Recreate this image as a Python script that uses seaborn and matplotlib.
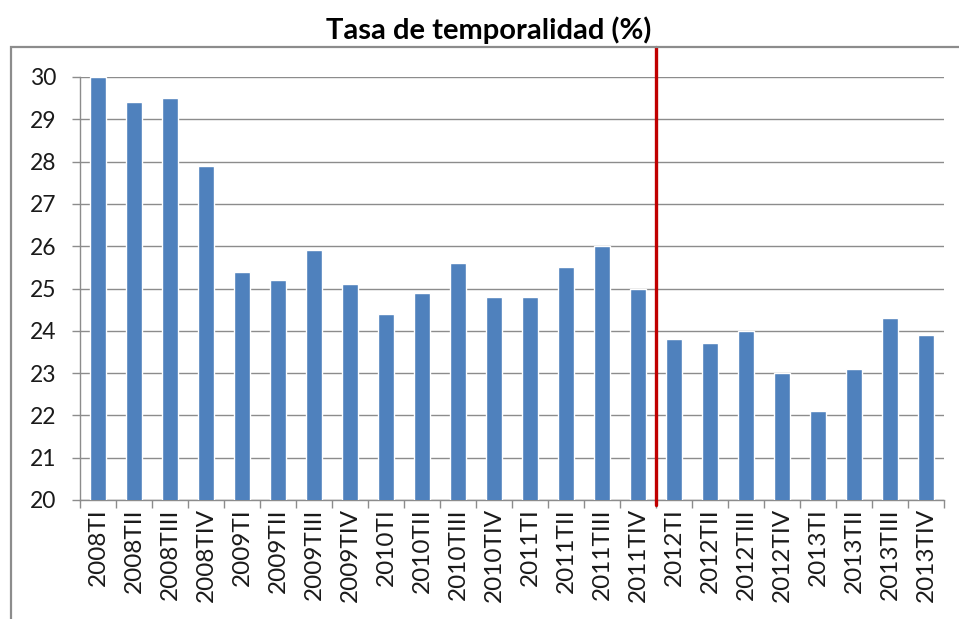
import matplotlib
matplotlib.use("Agg")
import matplotlib.pyplot as plt
from matplotlib.patches import Rectangle
import seaborn as sns
import pandas as pd

# Quarterly temporary-employment rate (%)
quarters = [
    "2008TI", "2008TII", "2008TIII", "2008TIV",
    "2009TI", "2009TII", "2009TIII", "2009TIV",
    "2010TI", "2010TII", "2010TIII", "2010TIV",
    "2011TI", "2011TII", "2011TIII", "2011TIV",
    "2012TI", "2012TII", "2012TIII", "2012TIV",
    "2013TI", "2013TII", "2013TIII", "2013TIV",
]
rates = [
    30.0, 29.4, 29.5, 27.9,
    25.4, 25.2, 25.9, 25.1,
    24.4, 24.9, 25.6, 24.8,
    24.8, 25.5, 26.0, 25.0,
    23.8, 23.7, 24.0, 23.0,
    22.1, 23.1, 24.3, 23.9,
]
y_ticks = [20, 21, 22, 23, 24, 25, 26, 27, 28, 29, 30]
break_after = "2011TIV"

df = pd.DataFrame({"trimestre": quarters, "tasa": rates})

sns.set_style("white")
plt.rcParams["font.family"] = ["Lato", "DejaVu Sans"]

fig = plt.figure(figsize=(9.59, 6.19), dpi=100)
ax = fig.add_axes([80 / 959, 1 - 500 / 619, 864 / 959, 423 / 619])

sns.barplot(data=df, x="trimestre", y="tasa", color="#4F81BD", saturation=1,
            width=0.42, ax=ax, zorder=3)

ax.set_ylim(20, 30)
ax.set_xlim(-0.5, len(quarters) - 0.5)
ax.set_yticks(y_ticks)
ax.yaxis.grid(True, color="#8c8c8c", linewidth=1.0, zorder=0)
ax.set_axisbelow(True)
ax.set_xlabel("")
ax.set_ylabel("")

for side in ["top", "right"]:
    ax.spines[side].set_visible(False)
for side in ["left", "bottom"]:
    ax.spines[side].set_color("#8c8c8c")
    ax.spines[side].set_linewidth(1.0)

ax.tick_params(axis="y", direction="out", length=6, width=1, color="#8c8c8c",
               pad=11, labelsize=16.5, labelcolor="#1a1a1a", left=True)
ax.set_xticks(range(len(quarters)))
ax.set_xticklabels(quarters, rotation=90)
ax.tick_params(axis="x", which="major", length=0, pad=6, labelsize=17.5,
               labelcolor="#1a1a1a")
ax.set_xticks([i - 0.5 for i in range(len(quarters) + 1)], minor=True)
ax.tick_params(axis="x", which="minor", direction="out", length=6, width=1,
               color="#8c8c8c", bottom=True)

# red vertical separator between 2011 and 2012
xb = quarters.index(break_after) + 0.5
ax.axvline(xb, ymin=-0.012, ymax=(500 - 47) / 423, color="#C00000",
           linewidth=2.4, clip_on=False, zorder=5)

# outer chart frame (left and top edges visible, rest runs off the image)
frame_top = 1 - 47 / 619
fig.patches.append(Rectangle((11 / 959, -0.1), 1.2, frame_top + 0.1,
                             transform=fig.transFigure, fill=False,
                             edgecolor="#8c8c8c", linewidth=1.6))

fig.text(489 / 959, 1 - 30 / 619, "Tasa de temporalidad (%)", ha="center",
         va="center", fontsize=21, fontweight="bold", color="black")

fig.savefig("out.png", dpi=100)
